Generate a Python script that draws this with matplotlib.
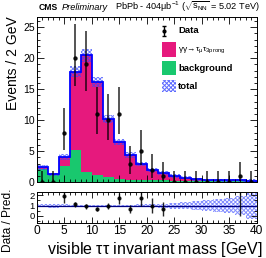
import numpy as np
import matplotlib
matplotlib.use("Agg")
import matplotlib.pyplot as plt
from matplotlib.patches import Rectangle
from matplotlib.ticker import MultipleLocator

plt.rcParams['font.family'] = ['Liberation Sans', 'DejaVu Sans']
plt.rcParams['mathtext.fontset'] = 'custom'
plt.rcParams['mathtext.rm'] = 'Liberation Sans'
plt.rcParams['mathtext.it'] = 'Liberation Sans:italic'
plt.rcParams['mathtext.bf'] = 'Liberation Sans:bold'
plt.rcParams['hatch.linewidth'] = 0.7

# ---------------- data ----------------
bin_edges = np.arange(0, 42, 2)
bin_centers = np.arange(1, 40, 2)
background = [2.2, 1.2, 2.6, 5.2, 1.7, 1.2, 0.8, 0.5, 0.4, 0.35,
              0.3, 0.3, 0.25, 0.2, 0.2, 0.15, 0.15, 0.15, 0.15, 0.15]
signal = [0.2, 0.1, 1.5, 12.6, 18.8, 15.0, 9.4, 6.0, 4.0, 2.55,
          1.7, 1.2, 0.75, 0.5, 0.3, 0.2, 0.15, 0.15, 0.15, 0.1]
rel_unc = [0.15, 0.2, 0.12, 0.05, 0.05, 0.05, 0.06, 0.08, 0.1, 0.12,
           0.15, 0.2, 0.28, 0.35, 0.42, 0.5, 0.6, 0.75, 0.95, 1.25]
data = [0, 0, 8, 20, 19, 11, 10, 11, 3, 5,
        2, 1, 0, 0, 0, 0, 0, 0, 1, 0]
data_err_lo = [0, 0, 2.77, 4.43, 4.32, 3.27, 3.11, 3.27, 1.63, 2.16,
               1.29, 0.83, 0, 0, 0, 0, 0, 0, 0.83, 0]
data_err_hi = [1.84, 1.84, 3.95, 5.55, 5.44, 4.42, 4.26, 4.42, 2.92, 3.38,
               2.64, 2.30, 1.84, 1.84, 1.84, 1.84, 1.84, 1.84, 2.30, 1.84]

PINK = '#E6197D'
GREEN = '#19C86E'
BLUE = '#0000FF'
HATCH = '#3344FF'

bkg = np.array(background)
sig = np.array(signal)
total = bkg + sig
unc = total * np.array(rel_unc)
d = np.array(data, dtype=float)

W, H = 266, 258
fig = plt.figure(figsize=(W / 100, H / 100), dpi=100)

def fr(x0, y0, x1, y1):
    return [x0 / W, 1 - y1 / H, (x1 - x0) / W, (y1 - y0) / H]

ax = fig.add_axes(fr(36.7, 16.7, 256.7, 182.3))
rax = fig.add_axes(fr(36.7, 191.7, 256.7, 222.7))

# ---------------- main panel ----------------
ax.bar(bin_centers, bkg, width=2, color=GREEN, linewidth=0)
ax.bar(bin_centers, sig, width=2, bottom=bkg, color=PINK, linewidth=0)
ax.bar(bin_centers, 2 * unc, width=2, bottom=total - unc, facecolor='none',
       edgecolor=HATCH, hatch='xxxxxxxx', linewidth=0, alpha=0.7)
ax.stairs(total, bin_edges, color=BLUE, linewidth=1.3)
ax.errorbar(bin_centers, d, yerr=[data_err_lo, data_err_hi], fmt='o', color='black',
            ms=2.2, elinewidth=1.1, capsize=0, alpha=0.85)

ax.set_xlim(0, 40)
ax.set_ylim(0, 26.7)
ax.xaxis.set_major_locator(MultipleLocator(5))
ax.xaxis.set_minor_locator(MultipleLocator(1))
ax.yaxis.set_major_locator(MultipleLocator(5))
ax.yaxis.set_minor_locator(MultipleLocator(1))
ax.tick_params(which='both', direction='in', top=True, right=True, labelbottom=False,
               width=0.6, labelsize=7.5, pad=1.5)
ax.tick_params(which='major', length=5)
ax.tick_params(which='minor', length=2.5)
for s in ax.spines.values():
    s.set_linewidth(0.7)

# legend (manual)
ax.errorbar([0.579], [0.914], yerr=[[0.03], [0.03]], transform=ax.transAxes, fmt='o',
            color='black', ms=2, elinewidth=1.0, capsize=1.5)
ax.add_patch(Rectangle((0.568, 0.758), 0.065, 0.091, transform=ax.transAxes,
                       facecolor=PINK, edgecolor='none'))
ax.add_patch(Rectangle((0.568, 0.648), 0.065, 0.086, transform=ax.transAxes,
                       facecolor=GREEN, edgecolor='none'))
ax.add_patch(Rectangle((0.568, 0.547), 0.065, 0.071, transform=ax.transAxes,
                       facecolor='none', edgecolor=HATCH, hatch='xxxxxxxx', linewidth=0,
                       alpha=0.8))
ax.text(0.644, 0.914, 'Data', transform=ax.transAxes, fontsize=6.8,
        fontweight='bold', va='center', ha='left')
ax.text(0.644, 0.800,
        r'$\mathrm{\gamma\gamma}\!\rightarrow\!\mathrm{\tau_{\mu}\tau_{3prong}}$',
        transform=ax.transAxes, fontsize=6.0, va='center', ha='left')
ax.text(0.644, 0.690, 'background', transform=ax.transAxes, fontsize=6.8,
        fontweight='bold', va='center', ha='left')
ax.text(0.644, 0.581, 'total', transform=ax.transAxes, fontsize=6.8,
        fontweight='bold', va='center', ha='left')

# ---------------- ratio panel ----------------
rax.bar(bin_centers, 2 * np.array(rel_unc), width=2, bottom=1 - np.array(rel_unc),
        facecolor='none', edgecolor=HATCH, hatch='xxxxxxxx', linewidth=0, alpha=0.6)
rax.axhline(1, color='#000080', linewidth=0.9)
mask = d > 0
ratio = d[mask] / total[mask]
ratio_err = np.sqrt(d[mask]) / total[mask]
rax.errorbar(bin_centers[mask], ratio, yerr=ratio_err, fmt='o', color='black',
             ms=2.0, elinewidth=1.0, capsize=0, alpha=0.85)
rax.set_xlim(0, 40)
rax.set_ylim(-0.65, 2.35)
rax.xaxis.set_major_locator(MultipleLocator(5))
rax.xaxis.set_minor_locator(MultipleLocator(1))
rax.yaxis.set_major_locator(MultipleLocator(1))
rax.yaxis.set_minor_locator(MultipleLocator(0.5))
rax.tick_params(which='both', direction='in', top=True, right=True,
                width=0.6, pad=1.5)
rax.tick_params(axis='x', labelsize=8.6, pad=2)
rax.tick_params(axis='y', labelsize=6.8)
rax.tick_params(which='major', length=4)
rax.tick_params(which='minor', length=2)
for s in rax.spines.values():
    s.set_linewidth(0.7)

# ---------------- text ----------------
fig.text(13 / W, 1 - 16.0 / H, 'Events / 2 GeV', rotation=90, ha='center', va='top',
         fontsize=10)
fig.text(8.5 / W, 1 - 189 / H, 'Data / Pred.', rotation=90, ha='center', va='top',
         fontsize=8.6)
fig.text(262 / W, 1 - 253.8 / H, r'visible $\mathrm{\tau\tau}$ invariant mass [GeV]',
         ha='right', va='baseline', fontsize=11.5)
fig.text(39 / W, 1 - 7 / H, 'CMS', fontweight='bold', fontsize=6.2, ha='left', va='center')
fig.text(61.5 / W, 1 - 7 / H, 'Preliminary', fontstyle='italic', fontsize=6.7,
         ha='left', va='center')
fig.text(260 / W, 1 - 7 / H,
         r'PbPb - 404$\mathrm{\mu b^{-1}}$ ($\sqrt{\mathrm{s_{NN}}}$ = 5.02 TeV)',
         fontsize=6.6, ha='right', va='center')

fig.savefig('out.png', dpi=100)
